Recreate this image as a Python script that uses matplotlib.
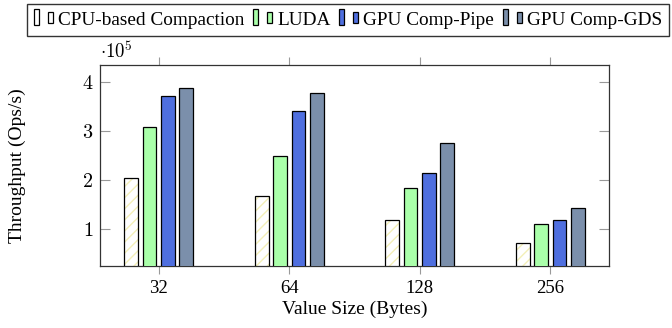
import numpy as np
import matplotlib
matplotlib.use("Agg")
import matplotlib.pyplot as plt
from matplotlib.patches import Rectangle
from matplotlib.ticker import FuncFormatter

plt.rcParams['font.family'] = 'serif'
plt.rcParams['font.serif'] = ['Liberation Serif', 'DejaVu Serif']
plt.rcParams['mathtext.fontset'] = 'cm'

# data (throughput in units of 1e5 ops/s)
value_sizes = ["32", "64", "128", "256"]
series_names = ["CPU-based Compaction", "LUDA", "GPU Comp-Pipe", "GPU Comp-GDS"]
cpu_based = [2.05, 1.67, 1.18, 0.72]
luda = [3.08, 2.49, 1.83, 1.10]
comp_pipe = [3.71, 3.41, 2.14, 1.19]
comp_gds = [3.88, 3.78, 2.76, 1.43]

face_colors = ["white", "#aaffaa", "#4f6fdf", "#7b8fab"]
hatch_color = "#f3efb8"


class TwoBarHandler:
    # pgfplots-like ybar legend: a tall bar and a smaller box
    def legend_artist(self, legend, orig_handle, fontsize, handlebox):
        x0, y0 = handlebox.xdescent, handlebox.ydescent
        w, h = handlebox.width, handlebox.height
        fc = orig_handle.get_facecolor()
        tr = handlebox.get_transform()
        r1 = Rectangle((x0, y0 - h * 0.05), w * 0.26, h * 1.1, facecolor=fc,
                       edgecolor="black", lw=0.9, transform=tr)
        r2 = Rectangle((x0 + w * 0.72, y0 + h * 0.1), w * 0.28, h * 0.75,
                       facecolor=fc, edgecolor="black", lw=0.9, transform=tr)
        handlebox.add_artist(r1)
        handlebox.add_artist(r2)
        return r1


fig = plt.figure(figsize=(6.72, 3.28), dpi=100)
ax = fig.add_axes([100 / 672, 1 - 266 / 328, 509 / 672, 201 / 328])

x = np.arange(len(value_sizes))
width = 0.105
step = 0.14
all_series = [cpu_based, luda, comp_pipe, comp_gds]
handles = []
for i, (vals, fc) in enumerate(zip(all_series, face_colors)):
    pos = x + (i - 1.5) * step
    if i == 0:
        ax.bar(pos, vals, width, color="white", edgecolor=hatch_color,
               hatch="///", linewidth=0, zorder=2)
        ax.bar(pos, vals, width, fill=False, edgecolor="black",
               linewidth=0.9, zorder=3)
    else:
        ax.bar(pos, vals, width, color=fc, edgecolor="black",
               linewidth=0.9, zorder=3)
    handles.append(Rectangle((0, 0), 1, 1, facecolor=fc))

ax.set_xlim(-0.45, 3.45)
ax.set_ylim(0.245, 4.35)
ax.set_xticks(x)
ax.set_xticklabels(value_sizes, fontsize=13.5)
ax.set_yticks([1, 2, 3, 4])
ax.yaxis.set_major_formatter(FuncFormatter(lambda v, p: "$%d$" % v))
for lab in ax.get_yticklabels():
    lab.set_fontsize(14.5)

ax.tick_params(axis="x", direction="out", top=True, length=6,
               color="#999999", width=0.8, pad=4)
ax.tick_params(axis="y", direction="in", right=True, length=7,
               color="#999999", width=0.8, pad=5)
for s in ax.spines.values():
    s.set_color("#333333")
    s.set_linewidth(0.9)

ax.set_xlabel("Value Size (Bytes)", fontsize=14, labelpad=3)
ax.set_ylabel("Throughput (Ops/s)", fontsize=14)
ax.yaxis.set_label_coords(-74 / 509, 0.5)

fig.text(100 / 672, 1 - 52 / 328, r"$\cdot 10^5$", fontsize=13.5,
         ha="left", va="center")

leg = fig.legend(handles, series_names, loc="upper left",
                 bbox_to_anchor=(27 / 672, 1 - 4 / 328),
                 bbox_transform=fig.transFigure, ncol=4, fontsize=13.9,
                 handler_map={Rectangle: TwoBarHandler()},
                 handlelength=1.0, handleheight=0.8, handletextpad=0.25,
                 columnspacing=0.45, borderpad=0.35, borderaxespad=0,
                 frameon=True, fancybox=False)
leg.get_frame().set_edgecolor("black")
leg.get_frame().set_linewidth(1.0)

fig.savefig("out.png", dpi=100)
